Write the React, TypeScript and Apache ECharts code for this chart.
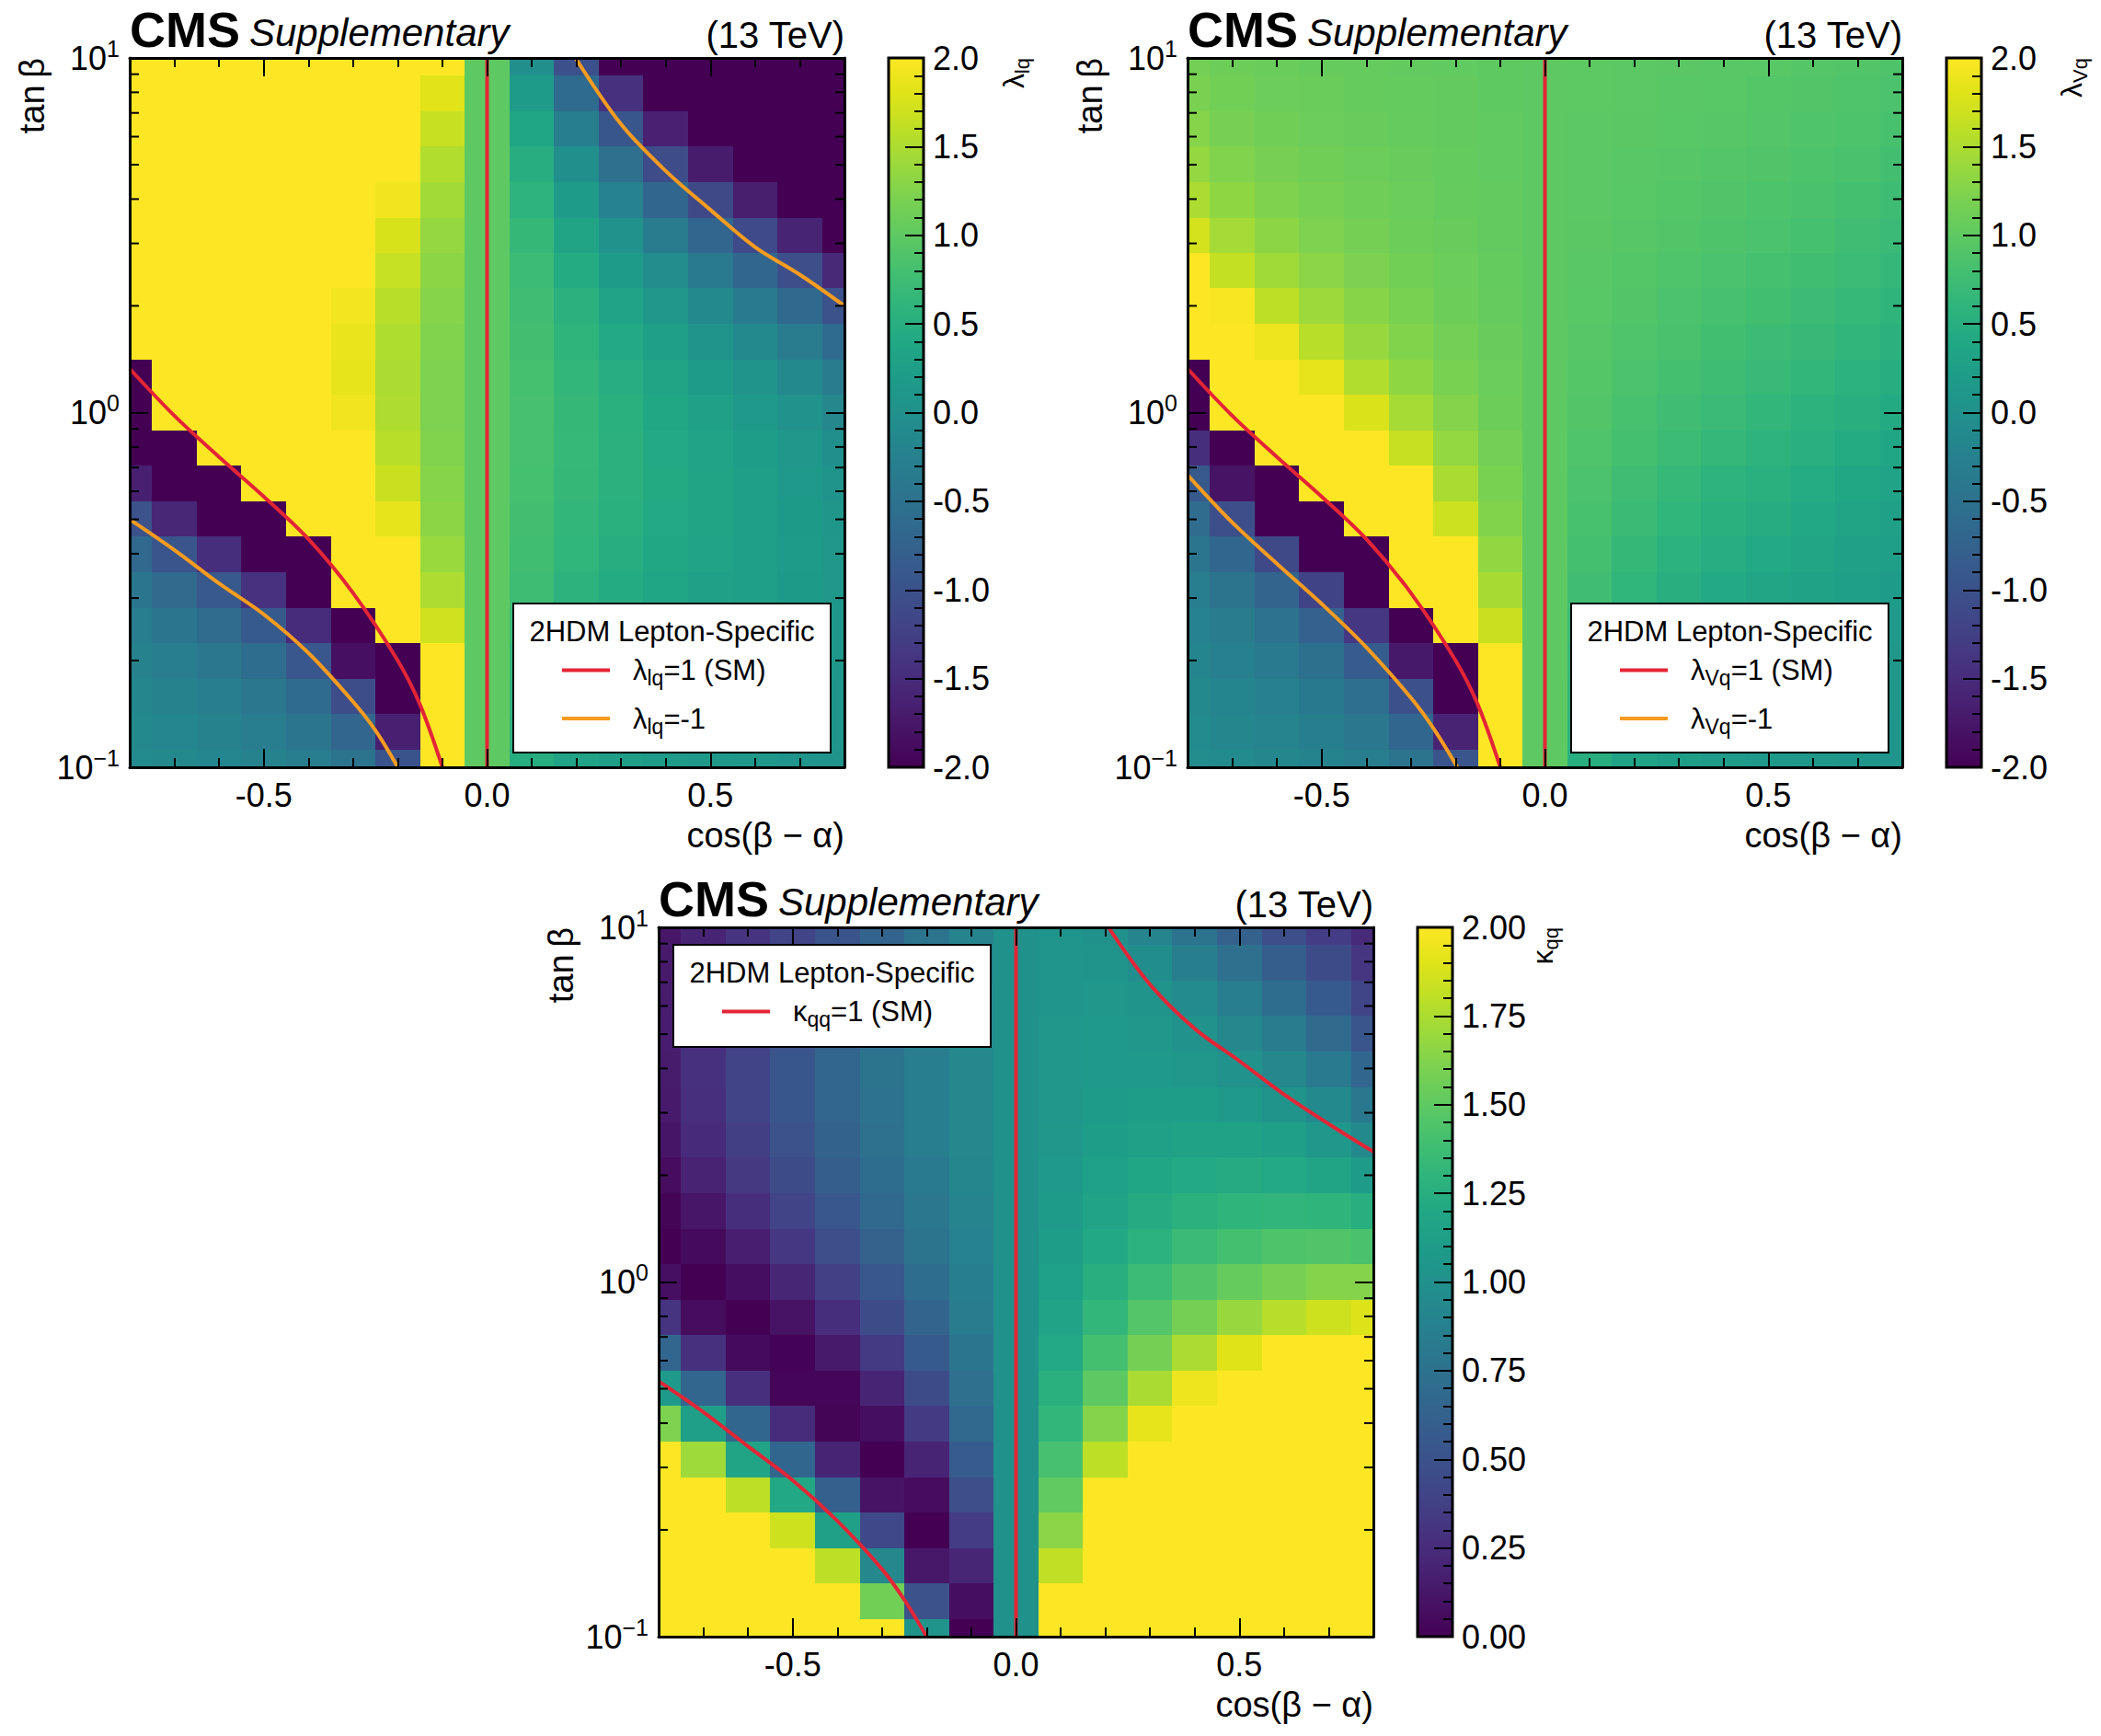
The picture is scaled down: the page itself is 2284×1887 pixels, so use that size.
import { useEffect, useRef } from "react"
import * as echarts from "echarts"

// sample grid: columns = cos(beta-alpha), rows = tan(beta)
const COS_BA = [-0.8, -0.7, -0.6, -0.5, -0.4, -0.3, -0.2, -0.1, 0, 0.1, 0.2, 0.3, 0.4, 0.5, 0.6, 0.7, 0.8]
const TAN_B = [0.1, 0.126, 0.158, 0.2, 0.251, 0.316, 0.398, 0.501, 0.631, 0.794, 1, 1.26, 1.58, 2, 2.51, 3.16, 3.98, 5.01, 6.31, 7.94, 10]

// lambda_lq (colour scale clipped at -2 / 2)
const LAMBDA_LQ = [
  [-0.09, -0.13, -0.17, -0.22, -0.31, -0.48, -0.98, 2, 1, 0.49, 0.32, 0.23, 0.18, 0.14, 0.11, 0.08, 0.06],
  [-0.12, -0.17, -0.22, -0.3, -0.43, -0.69, -1.65, 2, 1, 0.55, 0.37, 0.27, 0.21, 0.17, 0.13, 0.1, 0.07],
  [-0.16, -0.22, -0.3, -0.41, -0.61, -1.07, -2, 2, 1, 0.6, 0.42, 0.32, 0.25, 0.2, 0.15, 0.12, 0.08],
  [-0.22, -0.31, -0.42, -0.59, -0.92, -1.84, -2, 2, 1, 0.65, 0.47, 0.36, 0.29, 0.23, 0.18, 0.14, 0.1],
  [-0.31, -0.43, -0.6, -0.88, -1.5, -2, 2, 1.71, 1, 0.7, 0.52, 0.41, 0.33, 0.26, 0.2, 0.15, 0.11],
  [-0.44, -0.62, -0.9, -1.43, -2, 2, 2, 1.51, 1, 0.74, 0.57, 0.45, 0.36, 0.29, 0.23, 0.17, 0.11],
  [-0.65, -0.95, -1.47, -2, -2, 2, 2, 1.39, 1, 0.77, 0.61, 0.49, 0.39, 0.31, 0.24, 0.18, 0.11],
  [-1.0, -1.56, -2, -2, 2, 2, 1.86, 1.31, 1, 0.79, 0.64, 0.52, 0.42, 0.33, 0.25, 0.17, 0.09],
  [-1.65, -2, -2, 2, 2, 2, 1.67, 1.27, 1, 0.81, 0.66, 0.54, 0.43, 0.33, 0.24, 0.15, 0.05],
  [-2, -2, 2, 2, 2, 2, 1.57, 1.24, 1, 0.82, 0.67, 0.54, 0.42, 0.31, 0.21, 0.1, -0.02],
  [-2, 2, 2, 2, 2, 1.92, 1.51, 1.22, 1, 0.82, 0.66, 0.52, 0.39, 0.27, 0.14, 0.01, -0.14],
  [-2, 2, 2, 2, 2, 1.86, 1.5, 1.22, 1, 0.81, 0.64, 0.48, 0.34, 0.19, 0.04, -0.13, -0.33],
  [2, 2, 2, 2, 2, 1.87, 1.52, 1.24, 1, 0.79, 0.6, 0.42, 0.24, 0.06, -0.13, -0.34, -0.61],
  [2, 2, 2, 2, 2, 1.93, 1.57, 1.27, 1, 0.76, 0.54, 0.32, 0.11, -0.12, -0.36, -0.64, -1.0],
  [2, 2, 2, 2, 2, 2, 1.65, 1.31, 1, 0.72, 0.45, 0.19, -0.08, -0.37, -0.68, -1.05, -1.54],
  [2, 2, 2, 2, 2, 2, 1.76, 1.36, 1, 0.66, 0.33, 0.01, -0.33, -0.7, -1.11, -1.6, -2],
  [2, 2, 2, 2, 2, 2, 1.91, 1.44, 1, 0.59, 0.18, -0.23, -0.67, -1.13, -1.67, -2, -2],
  [2, 2, 2, 2, 2, 2, 2, 1.53, 1, 0.49, -0.02, -0.54, -1.09, -1.7, -2, -2, -2],
  [2, 2, 2, 2, 2, 2, 2, 1.66, 1, 0.36, -0.28, -0.94, -1.64, -2, -2, -2, -2],
  [2, 2, 2, 2, 2, 2, 2, 1.82, 1, 0.2, -0.61, -1.44, -2, -2, -2, -2, -2],
  [2, 2, 2, 2, 2, 2, 2, 2, 1, -0.01, -1.02, -2, -2, -2, -2, -2, -2],
]

// lambda_Vq
const LAMBDA_VQ = [
  [-0.08, -0.11, -0.15, -0.21, -0.3, -0.47, -0.96, 2, 1, 0.5, 0.33, 0.24, 0.19, 0.15, 0.12, 0.09, 0.07],
  [-0.1, -0.15, -0.2, -0.28, -0.41, -0.67, -1.61, 2, 1, 0.56, 0.38, 0.29, 0.22, 0.18, 0.14, 0.11, 0.09],
  [-0.13, -0.19, -0.27, -0.38, -0.57, -1.02, -2, 2, 1, 0.61, 0.44, 0.34, 0.27, 0.22, 0.17, 0.14, 0.11],
  [-0.18, -0.26, -0.36, -0.53, -0.84, -1.73, -2, 2, 1, 0.67, 0.49, 0.39, 0.31, 0.26, 0.21, 0.17, 0.13],
  [-0.23, -0.34, -0.5, -0.77, -1.36, -2, 2, 1.67, 1, 0.71, 0.55, 0.44, 0.37, 0.3, 0.25, 0.2, 0.16],
  [-0.31, -0.48, -0.73, -1.21, -2, 2, 2, 1.47, 1, 0.76, 0.61, 0.5, 0.42, 0.35, 0.3, 0.24, 0.19],
  [-0.43, -0.68, -1.13, -2, -2, 2, 2, 1.34, 1, 0.8, 0.66, 0.56, 0.48, 0.41, 0.35, 0.29, 0.23],
  [-0.6, -1.05, -2, -2, 2, 2, 1.69, 1.25, 1, 0.83, 0.71, 0.61, 0.53, 0.47, 0.4, 0.34, 0.27],
  [-0.9, -1.8, -2, 2, 2, 2, 1.48, 1.19, 1, 0.86, 0.76, 0.67, 0.59, 0.52, 0.46, 0.39, 0.32],
  [-1.47, -2, 2, 2, 2, 1.66, 1.35, 1.15, 1, 0.89, 0.8, 0.72, 0.65, 0.58, 0.51, 0.45, 0.37],
  [-2, 2, 2, 2, 1.77, 1.46, 1.26, 1.11, 1, 0.91, 0.83, 0.76, 0.7, 0.63, 0.57, 0.5, 0.43],
  [-2, 2, 2, 1.85, 1.53, 1.33, 1.19, 1.09, 1, 0.93, 0.86, 0.8, 0.74, 0.69, 0.63, 0.56, 0.49],
  [2, 2, 1.9, 1.57, 1.38, 1.25, 1.15, 1.07, 1, 0.94, 0.89, 0.84, 0.78, 0.73, 0.68, 0.62, 0.54],
  [2, 1.97, 1.6, 1.41, 1.28, 1.19, 1.11, 1.05, 1, 0.95, 0.91, 0.86, 0.82, 0.78, 0.73, 0.67, 0.6],
  [2, 1.64, 1.43, 1.3, 1.21, 1.14, 1.09, 1.04, 1, 0.96, 0.93, 0.89, 0.85, 0.81, 0.77, 0.72, 0.65],
  [1.73, 1.45, 1.31, 1.22, 1.16, 1.11, 1.07, 1.03, 1, 0.97, 0.94, 0.91, 0.88, 0.85, 0.81, 0.76, 0.7],
  [1.5, 1.33, 1.23, 1.17, 1.12, 1.09, 1.05, 1.03, 1, 0.98, 0.95, 0.93, 0.9, 0.87, 0.84, 0.8, 0.75],
  [1.36, 1.24, 1.18, 1.13, 1.1, 1.07, 1.04, 1.02, 1, 0.98, 0.96, 0.94, 0.92, 0.9, 0.87, 0.84, 0.79],
  [1.27, 1.18, 1.13, 1.1, 1.07, 1.05, 1.03, 1.02, 1, 0.98, 0.97, 0.95, 0.94, 0.92, 0.89, 0.87, 0.83],
  [1.2, 1.14, 1.1, 1.08, 1.06, 1.04, 1.03, 1.01, 1, 0.99, 0.98, 0.96, 0.95, 0.93, 0.91, 0.89, 0.86],
  [1.15, 1.11, 1.08, 1.06, 1.05, 1.03, 1.02, 1.01, 1, 0.99, 0.98, 0.97, 0.96, 0.95, 0.93, 0.91, 0.88],
]

// kappa_qq (colour scale clipped at 0 / 2)
const KAPPA_QQ = [
  [2, 2, 2, 2, 2, 2, 1.03, 0, 1, 2, 2, 2, 2, 2, 2, 2, 2],
  [2, 2, 2, 2, 2, 1.57, 0.5, 0.07, 1, 2, 2, 2, 2, 2, 2, 2, 2],
  [2, 2, 2, 2, 1.8, 0.93, 0.13, 0.21, 1, 1.81, 2, 2, 2, 2, 2, 2, 2],
  [2, 2, 2, 1.85, 1.14, 0.43, 0, 0.35, 1, 1.65, 2, 2, 2, 2, 2, 2, 2],
  [2, 2, 1.8, 1.2, 0.6, 0.1, 0.06, 0.48, 1, 1.51, 2, 2, 2, 2, 2, 2, 2],
  [2, 1.71, 1.17, 0.66, 0.2, 0, 0.2, 0.58, 1, 1.41, 1.8, 2, 2, 2, 2, 2, 2],
  [1.61, 1.12, 0.66, 0.25, 0.02, 0.07, 0.34, 0.67, 1, 1.32, 1.63, 1.93, 2, 2, 2, 2, 2],
  [1.08, 0.65, 0.27, 0.03, 0.03, 0.2, 0.46, 0.73, 1, 1.26, 1.5, 1.74, 1.95, 2, 2, 2, 2],
  [0.65, 0.28, 0.05, 0.01, 0.14, 0.34, 0.56, 0.78, 1, 1.21, 1.4, 1.58, 1.75, 1.9, 2, 2, 2],
  [0.3, 0.06, 0, 0.1, 0.26, 0.45, 0.64, 0.83, 1, 1.16, 1.32, 1.46, 1.58, 1.69, 1.78, 1.85, 1.89],
  [0.08, 0, 0.07, 0.21, 0.38, 0.54, 0.71, 0.86, 1, 1.13, 1.25, 1.36, 1.45, 1.53, 1.59, 1.63, 1.63],
  [0, 0.05, 0.17, 0.32, 0.47, 0.62, 0.76, 0.88, 1, 1.11, 1.2, 1.28, 1.35, 1.4, 1.44, 1.45, 1.42],
  [0.02, 0.12, 0.26, 0.4, 0.54, 0.67, 0.79, 0.9, 1, 1.09, 1.16, 1.22, 1.27, 1.3, 1.31, 1.3, 1.25],
  [0.06, 0.19, 0.33, 0.46, 0.59, 0.71, 0.82, 0.92, 1, 1.07, 1.13, 1.18, 1.21, 1.22, 1.21, 1.17, 1.09],
  [0.11, 0.24, 0.37, 0.5, 0.63, 0.74, 0.84, 0.93, 1, 1.06, 1.11, 1.14, 1.15, 1.15, 1.12, 1.05, 0.94],
  [0.14, 0.27, 0.4, 0.53, 0.65, 0.75, 0.85, 0.93, 1, 1.05, 1.09, 1.11, 1.11, 1.08, 1.03, 0.94, 0.8],
  [0.15, 0.28, 0.4, 0.53, 0.65, 0.76, 0.85, 0.93, 1, 1.05, 1.08, 1.08, 1.06, 1.01, 0.93, 0.82, 0.66],
  [0.16, 0.27, 0.39, 0.51, 0.63, 0.74, 0.85, 0.93, 1, 1.05, 1.07, 1.05, 1.01, 0.93, 0.83, 0.69, 0.52],
  [0.15, 0.26, 0.37, 0.49, 0.6, 0.72, 0.83, 0.93, 1, 1.04, 1.05, 1.02, 0.95, 0.84, 0.71, 0.56, 0.41],
  [0.14, 0.23, 0.33, 0.44, 0.56, 0.68, 0.81, 0.91, 1, 1.04, 1.03, 0.97, 0.86, 0.73, 0.59, 0.45, 0.31],
  [0.12, 0.2, 0.3, 0.4, 0.51, 0.64, 0.77, 0.9, 1, 1.04, 1, 0.9, 0.76, 0.62, 0.48, 0.35, 0.24],
]

// contour lines, points [cos(beta-alpha), tan(beta)]
const SM_LINE = [[0, 0.1], [0, 10]]
const POLE_CURVE = [[-0.8, 1.33], [-0.7, 0.98], [-0.6, 0.75], [-0.5, 0.58], [-0.4, 0.44], [-0.3, 0.31], [-0.2, 0.2], [-0.15, 0.15], [-0.1, 0.1]]
const LQ_MINUS_LOW = [[-0.8, 0.5], [-0.7, 0.41], [-0.6, 0.33], [-0.5, 0.27], [-0.4, 0.21], [-0.3, 0.153], [-0.25, 0.127], [-0.2, 0.1]]
const LQ_MINUS_HIGH = [[0.198, 10], [0.3, 6.5], [0.4, 4.8], [0.5, 3.73], [0.6, 2.93], [0.7, 2.45], [0.8, 2.0]]
const VQ_MINUS = [[-0.8, 0.667], [-0.7, 0.49], [-0.6, 0.375], [-0.5, 0.289], [-0.4, 0.218], [-0.3, 0.157], [-0.25, 0.129], [-0.196, 0.1]]
const KQQ_ONE_LOW = [[-0.8, 0.525], [-0.7, 0.43], [-0.6, 0.344], [-0.5, 0.276], [-0.4, 0.212], [-0.3, 0.155], [-0.25, 0.127], [-0.2, 0.1]]
const KQQ_ONE_HIGH = [[0.207, 10], [0.3, 6.9], [0.4, 5.18], [0.5, 4.2], [0.6, 3.38], [0.7, 2.79], [0.8, 2.33]]

const LOG_MINOR_TICKS = [0.2, 0.3, 0.4, 0.5, 0.6, 0.7, 0.8, 0.9, 2, 3, 4, 5, 6, 7, 8, 9]

const VIRIDIS = [
  "#440154", "#471365", "#482475", "#463480", "#414487", "#3b528b", "#355f8d",
  "#2f6c8e", "#2a788e", "#25848e", "#21918c", "#1e9c89", "#22a884", "#2fb47c",
  "#44bf70", "#5ec962", "#7ad151", "#9bd93c", "#bddf26", "#dfe318", "#fde725",
]

const RED = "#e42536"
const ORANGE = "#f89c20"
const FONT = "'Liberation Sans', Arial, Helvetica, sans-serif"

const PLOT_W = 777
const PLOT_H = 771
const CBAR_GAP = 48
const CBAR_W = 38

const LEGEND_TEXT: Record<string, string> = {
  "λlq=1 (SM)": "{g|}{m|λ}{s|lq}{m|=1 (SM)}",
  "λlq=-1": "{g|}{m|λ}{s|lq}{m|=-1}",
  "λVq=1 (SM)": "{g|}{m|λ}{s|Vq}{m|=1 (SM)}",
  "λVq=-1": "{g|}{m|λ}{s|Vq}{m|=-1}",
  "κqq=1 (SM)": "{g|}{m|κ}{s|qq}{m|=1 (SM)}",
}

const PANELS = [
  {
    left: 141, top: 63, values: LAMBDA_LQ, min: -2, max: 2, step: 0.5, digits: 1,
    cbarLabel: "{m|λ}{s|lq}",
    box: { x: 558, y: 656, w: 345, h: 162 },
    lines: [
      { name: "λlq=1 (SM)", color: RED, data: SM_LINE },
      { name: "λlq=1 (SM)", color: RED, data: POLE_CURVE },
      { name: "λlq=-1", color: ORANGE, data: LQ_MINUS_LOW },
      { name: "λlq=-1", color: ORANGE, data: LQ_MINUS_HIGH },
    ],
  },
  {
    left: 1291, top: 63, values: LAMBDA_VQ, min: -2, max: 2, step: 0.5, digits: 1,
    cbarLabel: "{m|λ}{s|Vq}",
    box: { x: 1708, y: 656, w: 345, h: 162 },
    lines: [
      { name: "λVq=1 (SM)", color: RED, data: SM_LINE },
      { name: "λVq=1 (SM)", color: RED, data: POLE_CURVE },
      { name: "λVq=-1", color: ORANGE, data: VQ_MINUS },
    ],
  },
  {
    left: 716, top: 1008, values: KAPPA_QQ, min: 0, max: 2, step: 0.25, digits: 2,
    cbarLabel: "{m|κ}{s|qq}",
    box: { x: 732, y: 1027, w: 345, h: 111 },
    lines: [
      { name: "κqq=1 (SM)", color: RED, data: SM_LINE },
      { name: "κqq=1 (SM)", color: RED, data: KQQ_ONE_LOW },
      { name: "κqq=1 (SM)", color: RED, data: KQQ_ONE_HIGH },
    ],
  },
]

// cell edges halfway between neighbouring samples (geometric mean on the log axis)
const X_EDGES = COS_BA.map((c, j) => (j === 0 ? c - (COS_BA[1] - c) / 2 : (COS_BA[j - 1] + c) / 2))
X_EDGES.push(COS_BA[COS_BA.length - 1] + (COS_BA[COS_BA.length - 1] - COS_BA[COS_BA.length - 2]) / 2)
const Y_EDGES = TAN_B.map((t, k) => (k === 0 ? t / Math.sqrt(TAN_B[1] / t) : Math.sqrt(TAN_B[k - 1] * t)))
Y_EDGES.push(TAN_B[TAN_B.length - 1] * Math.sqrt(TAN_B[TAN_B.length - 1] / TAN_B[TAN_B.length - 2]))

const frameLine = { show: true, onZero: false, lineStyle: { color: "#000", width: 3 } }
const majorTick = { show: true, inside: true, length: 20, lineStyle: { color: "#000", width: 2 } }
const minorTick = { show: true, splitNumber: 5, length: 10, lineStyle: { color: "#000", width: 2 } }

function decadeLabel(v: number) {
  const e = Math.round(Math.log10(v))
  return "{b|10}{e|" + (e < 0 ? "−" + -e : String(e)) + "}"
}

function renderCell(params: any, api: any) {
  const j = api.value(3)
  const k = api.value(4)
  const p0 = api.coord([X_EDGES[j], Y_EDGES[k]])
  const p1 = api.coord([X_EDGES[j + 1], Y_EDGES[k + 1]])
  // snap to whole pixels so neighbouring cells meet without seams
  const x0 = Math.round(p0[0])
  const x1 = Math.round(p1[0])
  const y0 = Math.round(p1[1])
  const y1 = Math.round(p0[1])
  const shape = echarts.graphic.clipRectByRect(
    { x: x0, y: y0, width: x1 - x0, height: y1 - y0 },
    params.coordSys
  )
  if (!shape) return null
  return { type: "rect", shape, style: { fill: api.visual("color") } }
}

function buildOption() {
  const grid: any[] = []
  const xAxis: any[] = []
  const yAxis: any[] = []
  const series: any[] = []
  const visualMap: any[] = []
  const legend: any[] = []
  const graphic: any[] = []

  PANELS.forEach((p, i) => {
    const g = 2 * i
    const a = 3 * i
    const cbarLeft = p.left + PLOT_W + CBAR_GAP

    grid.push({ left: p.left, top: p.top, width: PLOT_W, height: PLOT_H })
    grid.push({ left: cbarLeft, top: p.top, width: CBAR_W, height: PLOT_H })

    const xBase = {
      type: "value", gridIndex: g, min: -0.8, max: 0.8, splitNumber: 3,
      axisLine: frameLine, axisTick: majorTick, minorTick,
      splitLine: { show: false }, minorSplitLine: { show: false }, z: 10,
    }
    xAxis.push({
      ...xBase, position: "bottom",
      axisLabel: {
        color: "#000", fontSize: 36, fontFamily: FONT, margin: 12,
        showMinLabel: false, showMaxLabel: false,
        formatter: (v: number) => v.toFixed(1),
      },
    })
    xAxis.push({ ...xBase, position: "top", axisLabel: { show: false } })
    xAxis.push({ type: "value", gridIndex: g + 1, min: 0, max: 1, show: false })

    const yBase = {
      type: "log", logBase: 10, gridIndex: g, min: 0.1, max: 10,
      axisLine: frameLine, axisTick: majorTick, splitLine: { show: false }, z: 10,
    }
    yAxis.push({
      ...yBase, position: "left",
      axisLabel: {
        color: "#000", margin: 11, formatter: decadeLabel,
        rich: {
          b: { fontSize: 36, lineHeight: 46, fontFamily: FONT, color: "#000" },
          e: { fontSize: 25, verticalAlign: "top", fontFamily: FONT, color: "#000" },
        },
      },
    })
    yAxis.push({ ...yBase, position: "right", axisLabel: { show: false } })
    yAxis.push({
      type: "value", gridIndex: g + 1, position: "right",
      min: p.min, max: p.max, interval: p.step,
      axisLine: { show: false, onZero: false }, axisTick: majorTick, minorTick,
      splitLine: { show: false }, z: 10,
      axisLabel: {
        color: "#000", fontSize: 36, fontFamily: FONT, margin: 10,
        formatter: (v: number) => v.toFixed(p.digits),
      },
    })

    // colour map cells: [cos, tan, value, column index, row index]
    const cells: number[][] = []
    p.values.forEach((row, k) => row.forEach((v, j) => cells.push([COS_BA[j], TAN_B[k], v, j, k])))
    series.push({
      type: "custom", xAxisIndex: a, yAxisIndex: a, data: cells,
      encode: { x: 0, y: 1 }, renderItem: renderCell, silent: true, z: 1,
    })
    visualMap.push({
      type: "continuous", show: false, min: p.min, max: p.max, dimension: 2,
      seriesIndex: series.length - 1, inRange: { color: VIRIDIS },
    })

    // colour bar
    series.push({
      type: "custom", xAxisIndex: a + 2, yAxisIndex: a + 2, data: [[0.5, p.min]],
      silent: true, z: 1,
      renderItem: (params: any) => {
        const c = params.coordSys
        const shape = { x: c.x, y: c.y, width: c.width, height: c.height }
        return {
          type: "group",
          children: [
            {
              type: "rect", shape,
              style: {
                fill: new echarts.graphic.LinearGradient(0, 1, 0, 0,
                  VIRIDIS.map((color, n) => ({ offset: n / (VIRIDIS.length - 1), color }))),
              },
            },
            { type: "rect", shape, style: { fill: "none", stroke: "#000", lineWidth: 3 } },
          ],
        }
      },
    })

    // log minor ticks on left and right frame
    series.push({
      type: "custom", xAxisIndex: a, yAxisIndex: a,
      data: LOG_MINOR_TICKS.map((v) => [0, v]), encode: { x: 0, y: 1 },
      silent: true, z: 11,
      renderItem: (params: any, api: any) => {
        const c = params.coordSys
        const yy = api.coord([0, api.value(1)])[1]
        const st = { stroke: "#000", lineWidth: 2 }
        return {
          type: "group",
          children: [
            { type: "line", shape: { x1: c.x, y1: yy, x2: c.x + 10, y2: yy }, style: st },
            { type: "line", shape: { x1: c.x + c.width - 10, y1: yy, x2: c.x + c.width, y2: yy }, style: st },
          ],
        }
      },
    })

    p.lines.forEach((l) => {
      series.push({
        type: "line", name: l.name, xAxisIndex: a, yAxisIndex: a, data: l.data,
        smooth: 0.35, showSymbol: false, symbol: "none", color: l.color,
        lineStyle: { color: l.color, width: 4 }, z: 5, silent: true,
      })
    })

    const names = Array.from(new Set(p.lines.map((l) => l.name)))
    legend.push({
      left: p.box.x + 53, top: p.box.y + 57, orient: "vertical", padding: 0,
      itemWidth: 52, itemHeight: 4, itemGap: 17, selectedMode: false, z: 30,
      data: names.map((n) => ({ name: n, icon: "rect" })),
      formatter: (n: string) => LEGEND_TEXT[n],
      textStyle: {
        color: "#000",
        rich: {
          g: { width: 20 },
          m: { fontSize: 31, lineHeight: 40, fontFamily: FONT, color: "#000" },
          s: { fontSize: 23, verticalAlign: "bottom", fontFamily: FONT, color: "#000" },
        },
      },
    })

    graphic.push(
      {
        type: "rect", z: 20,
        shape: { x: p.box.x, y: p.box.y, width: p.box.w, height: p.box.h },
        style: { fill: "#fff", stroke: "#000", lineWidth: 2 },
      },
      {
        type: "text", z: 21, x: p.box.x + p.box.w / 2, y: p.box.y + 30,
        style: { text: "2HDM Lepton-Specific", font: `31px ${FONT}`, fill: "#000", align: "center", verticalAlign: "middle" },
      },
      {
        type: "text", x: p.left, y: p.top - 31,
        style: { text: "CMS", font: `bold 54px ${FONT}`, fill: "#000", align: "left", verticalAlign: "middle" },
      },
      {
        type: "text", x: p.left + 130, y: p.top - 28,
        style: { text: "Supplementary", font: `italic 42px ${FONT}`, fill: "#000", align: "left", verticalAlign: "middle" },
      },
      {
        type: "text", x: p.left + PLOT_W, y: p.top - 25,
        style: { text: "(13 TeV)", font: `40px ${FONT}`, fill: "#000", align: "right", verticalAlign: "middle" },
      },
      {
        type: "text", x: p.left - 106, y: p.top, rotation: Math.PI / 2,
        style: { text: "tan\u2009β", font: `38px ${FONT}`, fill: "#000", align: "right", verticalAlign: "middle" },
      },
      {
        type: "text", x: p.left + PLOT_W, y: p.top + PLOT_H + 74,
        style: { text: "cos(β − α)", font: `38px ${FONT}`, fill: "#000", align: "right", verticalAlign: "middle" },
      },
      {
        type: "text", x: cbarLeft + 136, y: p.top, rotation: Math.PI / 2,
        style: {
          text: p.cbarLabel, fill: "#000", align: "right", verticalAlign: "middle",
          rich: {
            m: { fontSize: 32, lineHeight: 40, fontFamily: FONT, fill: "#000" },
            s: { fontSize: 22, verticalAlign: "bottom", fontFamily: FONT, fill: "#000" },
          },
        },
      }
    )
  })

  return {
    animation: false,
    textStyle: { fontFamily: FONT },
    grid, xAxis, yAxis, series, visualMap, legend, graphic,
  }
}

export default function App() {
  const chartRef = useRef<HTMLDivElement>(null)

  useEffect(() => {
    if (!chartRef.current) return
    const chart = echarts.init(chartRef.current, null, { renderer: "svg" })
    chart.setOption(buildOption())
    return () => {
      chart.dispose()
    }
  }, [])

  return (
    <div
      ref={chartRef}
      style={{ position: "fixed", left: 0, top: 0, width: 2284, height: 1887, background: "#fff" }}
    />
  )
}
